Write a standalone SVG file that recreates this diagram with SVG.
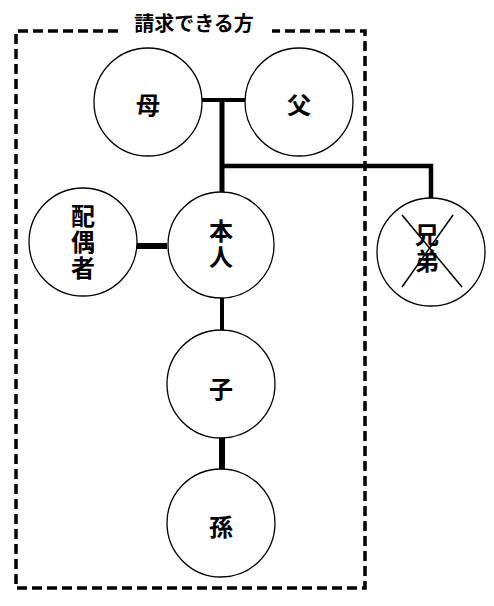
<svg xmlns="http://www.w3.org/2000/svg" width="494" height="606" viewBox="0 0 494 606">
<style>
.node{fill:#fff;stroke:#000;stroke-width:1.3}
.lbl{font-family:"Noto Sans CJK JP","Noto Sans CJK SC",sans-serif;font-weight:bold;font-size:24px;text-anchor:middle;dominant-baseline:central;fill:#000}
.vt{writing-mode:vertical-rl;glyph-orientation-vertical:0}
.ttl{font-family:"Noto Sans CJK JP","Noto Sans CJK SC",sans-serif;font-weight:bold;font-size:20px;text-anchor:middle;dominant-baseline:central;fill:#000}
.ln{stroke:#000;fill:none}
</style>
<rect width="494" height="606" fill="#fff"/>
<g id="frame">
<path d="M118,31 H16 V588 H365 V31 H272" fill="none" stroke="#000" stroke-width="3.5" stroke-dasharray="10,5"/>
<text class="ttl" x="194" y="22">請求できる方</text>
</g>
<g id="connectors">
<line class="ln" x1="202" y1="100" x2="245" y2="100" stroke-width="4" stroke="#222"/>
<line class="ln" x1="222" y1="100" x2="222" y2="192" stroke-width="5"/>
<polyline class="ln" points="222,166 431,166 431,198" stroke-width="4.5"/>
<line class="ln" x1="137" y1="246" x2="167" y2="246" stroke-width="6"/>
<line class="ln" x1="222" y1="298" x2="222" y2="331" stroke-width="4"/>
<line class="ln" x1="222" y1="438" x2="222" y2="469" stroke-width="6"/>
</g>
<g id="mother"><circle class="node" cx="148" cy="102" r="54"/><text class="lbl" x="148" y="103">母</text></g>
<g id="father"><circle class="node" cx="299" cy="102" r="54"/><text class="lbl" x="299" y="103">父</text></g>
<g id="spouse"><circle class="node" cx="83" cy="242" r="54"/>
<text class="lbl vt" x="83" y="243" letter-spacing="2">配偶者</text></g>
<g id="self"><circle class="node" cx="221" cy="245" r="53"/>
<text class="lbl vt" x="221" y="245" letter-spacing="2">本人</text></g>
<g id="sibling"><circle class="node" cx="431" cy="252" r="54"/>
<text class="lbl vt" x="427" y="249" font-weight="normal" letter-spacing="2">兄弟</text>
<line x1="402" y1="215" x2="462" y2="287" stroke="#000" stroke-width="1.5"/>
<line x1="453" y1="215" x2="402" y2="287" stroke="#000" stroke-width="1.5"/></g>
<g id="child"><circle class="node" cx="221" cy="384" r="54"/><text class="lbl" x="221" y="387">子</text></g>
<g id="grandchild"><circle class="node" cx="221" cy="523" r="54"/><text class="lbl" x="221" y="525">孫</text></g>
</svg>
